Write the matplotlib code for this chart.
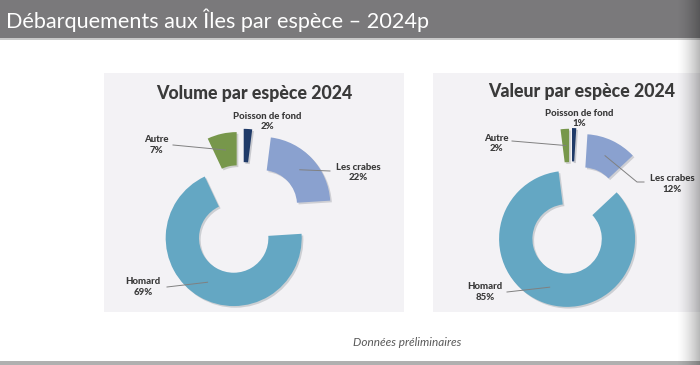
import matplotlib
matplotlib.use('Agg')
import matplotlib.pyplot as plt
import matplotlib.patheffects as pe
from matplotlib.patches import Rectangle
import numpy as np

# ---------------- data ----------------
categories = ['Poisson de fond', 'Les crabes', 'Homard', 'Autre']
volume_pct = [2, 22, 69, 7]
valeur_pct = [1, 12, 85, 2]
colors = ['#1f3a68', '#8aa1cf', '#64a7c3', '#77974b']
slide_title = 'Débarquements aux Îles par espèce – 2024p'
chart_titles = ['Volume par espèce 2024', 'Valeur par espèce 2024']
footnote = 'Données préliminaires'

W, H = 700, 365
fig = plt.figure(figsize=(7, 3.65), dpi=100)
fig.patch.set_facecolor('white')

# background / layout axes in pixel coordinates (y down)
bg = fig.add_axes([0, 0, 1, 1], zorder=0)
bg.set_xlim(0, W)
bg.set_ylim(H, 0)
bg.axis('off')

bg.add_patch(Rectangle((0, 0), W, 38, color='#7a797b', lw=0))
bg.add_patch(Rectangle((0, 38), W, 2, color='#c9c9c9', lw=0))
bg.add_patch(Rectangle((0, 361), W, 4, color='#b0b0b0', lw=0))
bg.text(6, 20, slide_title, color='white', fontsize=15.6, family='Lato',
        va='center', ha='left')
bg.text(407, 343, footnote, color='#595959', fontsize=8.5, family='Lato',
        style='italic', ha='center', va='center')

R = 68.0
panels = [
    dict(box=(104, 73, 404, 312), center=(242, 224),
         explode=[0.40, 0.41, 0.24, 0.36], values=volume_pct,
         title=chart_titles[0], title_xy=(254, 93), title_ha='center',
         labels=[((267, 121.5), None),
                 ((358, 172.5), [(330, 171)]),
                 ((143, 287), [(167, 287)]),
                 ((156, 145), [(173, 145)])]),
    dict(box=(433, 73, 700, 312), center=(571, 228),
         explode=[0.47, 0.42, 0.17, 0.46], values=valeur_pct,
         title=chart_titles[1], title_xy=(488, 92), title_ha='left',
         labels=[((579, 118.5), None),
                 ((672, 184), [(637, 182), (644, 182)]),
                 ((485, 292), [(507, 292)]),
                 ((496, 143.5), [(512, 141)])]),
]

for p in panels:
    x0, y0, x1, y1 = p['box']
    cx, cy = p['center']
    bg.add_patch(Rectangle((x0, y0), x1 - x0, y1 - y0, color='#f3f2f5', lw=0))
    ax = fig.add_axes([x0 / W, 1 - y1 / H, (x1 - x0) / W, (y1 - y0) / H], zorder=2)
    wedges, _ = ax.pie(p['values'], colors=colors, startangle=90, counterclock=False,
                       explode=p['explode'], radius=1,
                       wedgeprops=dict(width=0.49, edgecolor='none'))
    for w in wedges:
        w.set_path_effects([pe.SimplePatchShadow(offset=(1.2, -1.2), alpha=0.18),
                            pe.Normal()])
    ax.set_xlim((x0 - cx) / R, (x1 - cx) / R)
    ax.set_ylim((cy - y1) / R, (cy - y0) / R)
    ax.set_aspect('auto')
    ax.axis('off')
    ax.patch.set_alpha(0)

    def to_data(pt):
        return ((pt[0] - cx) / R, (cy - pt[1]) / R)

    ax.text(*to_data(p['title_xy']), p['title'], fontsize=12.8, family='Lato',
            weight='black', color='#3a3a3a', ha=p['title_ha'], va='center')

    for w, cat, val, (txy, leader) in zip(wedges, categories, p['values'], p['labels']):
        ax.text(*to_data(txy), f'{cat}\n{val}%', fontsize=6.9, family='Lato',
                weight='black', color='#3a3a3a', ha='center', va='center',
                linespacing=1.15, clip_on=False)
        if leader:
            th = np.deg2rad((w.theta1 + w.theta2) / 2)
            rm = w.r - w.width / 2
            ax_ = w.center[0] + rm * np.cos(th)
            ay_ = w.center[1] + rm * np.sin(th)
            pts = [(ax_, ay_)] + [to_data(q) for q in leader]
            xs, ys = zip(*pts)
            ax.plot(xs, ys, color='#808080', lw=0.7, clip_on=False, zorder=5)

# right-edge shadow gradient
grad = np.linspace(0, 1, 50)[None, :] ** 1.5
sh = fig.add_axes([676 / W, 0, 24 / W, 1], zorder=10)
sh.imshow(np.dstack([np.zeros((1, 50, 3)), grad[..., None] * 0.28]),
          aspect='auto', extent=(0, 1, 0, 1))
sh.axis('off')

fig.savefig('out.png', dpi=100, facecolor='white')
